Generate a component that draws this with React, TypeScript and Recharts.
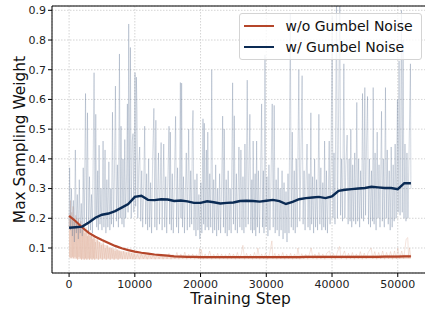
import { ComposedChart, Line, Area, XAxis, YAxis, CartesianGrid, ReferenceLine, Legend } from 'recharts';

const FONT = '"DejaVu Sans", sans-serif';

// x ticks / y ticks
const xTicks = [0, 10000, 20000, 30000, 40000, 50000];
const yTicks = [0.1, 0.2, 0.3, 0.4, 0.5, 0.6, 0.7, 0.8, 0.9];

// smoothed curves, sampled every 1000 steps
const smoothSteps = [
  0, 1000, 2000, 3000, 4000, 5000, 6000, 7000, 8000, 9000, 10000, 11000, 12000, 13000, 14000, 15000, 16000, 17000,
  18000, 19000, 20000, 21000, 22000, 23000, 24000, 25000, 26000, 27000, 28000, 29000, 30000, 31000, 32000, 33000,
  34000, 35000, 36000, 37000, 38000, 39000, 40000, 41000, 42000, 43000, 44000, 45000, 46000, 47000, 48000, 49000,
  50000, 51000, 52000,
];
const withGumbel = [
  0.168, 0.17, 0.172, 0.186, 0.202, 0.212, 0.216, 0.224, 0.236, 0.248, 0.272, 0.276, 0.262, 0.261, 0.264, 0.263,
  0.258, 0.26, 0.257, 0.252, 0.252, 0.257, 0.254, 0.25, 0.252, 0.253, 0.258, 0.259, 0.258, 0.256, 0.259, 0.262,
  0.258, 0.248, 0.255, 0.264, 0.268, 0.27, 0.272, 0.268, 0.274, 0.292, 0.296, 0.298, 0.3, 0.302, 0.306, 0.304,
  0.302, 0.302, 0.298, 0.318, 0.318,
];
const withoutGumbel = [
  0.208, 0.19, 0.169, 0.151, 0.138, 0.127, 0.117, 0.107, 0.099, 0.093, 0.088, 0.084, 0.081, 0.078, 0.076, 0.074,
  0.072, 0.071, 0.07, 0.07, 0.069, 0.069, 0.069, 0.069, 0.069, 0.069, 0.069, 0.069, 0.069, 0.069, 0.069, 0.069,
  0.069, 0.069, 0.069, 0.069, 0.07, 0.07, 0.07, 0.07, 0.07, 0.07, 0.07, 0.07, 0.07, 0.07, 0.07, 0.07, 0.071, 0.071,
  0.071, 0.072, 0.072,
];

// dense spread of the raw w/o-noise values (light band behind the raw line)
const bandSteps = [0, 1000, 2000, 3000, 4000, 5000, 6000, 8000, 10000, 12000, 15000, 20000, 30000, 40000, 52000];
const bandLow = [0.066, 0.064, 0.062, 0.062, 0.062, 0.062, 0.062, 0.062, 0.062, 0.062, 0.062, 0.062, 0.062, 0.062, 0.063];
const bandHigh = [0.2, 0.185, 0.165, 0.148, 0.13, 0.115, 0.105, 0.09, 0.082, 0.078, 0.075, 0.074, 0.074, 0.075, 0.077];

// raw (unsmoothed) values: [step, value]
const withGumbelRaw: [number, number][] = [
  [0, 0.17], [80, 0.37], [200, 0.16], [350, 0.3], [500, 0.14], [650, 0.26], [800, 0.12], [950, 0.43], [1100, 0.15],
  [1250, 0.28], [1400, 0.13], [1550, 0.33], [1700, 0.15], [1850, 0.25], [2000, 0.14], [2150, 0.37], [2300, 0.16],
  [2500, 0.62], [2650, 0.18], [2800, 0.555], [2950, 0.15], [3100, 0.34], [3250, 0.16], [3400, 0.28], [3550, 0.15],
  [3800, 0.69], [3950, 0.2], [4060, 0.55], [4200, 0.17], [4350, 0.36], [4450, 0.16], [4560, 0.446], [4700, 0.18],
  [4850, 0.3], [5000, 0.16], [5170, 0.46], [5300, 0.17], [5470, 0.43], [5600, 0.15], [5750, 0.33], [5900, 0.17],
  [6050, 0.39], [6200, 0.16], [6350, 0.3], [6450, 0.18], [6600, 0.557], [6750, 0.17], [6900, 0.35], [7050, 0.645],
  [7200, 0.19], [7350, 0.38], [7500, 0.17], [7660, 0.753], [7780, 0.2], [7900, 0.51], [8050, 0.18], [8200, 0.4],
  [8350, 0.17], [8470, 0.465], [8600, 0.2], [8750, 0.35], [8870, 0.585], [8970, 0.22], [9070, 0.854], [9200, 0.25],
  [9330, 0.775], [9450, 0.2], [9600, 0.46], [9730, 0.485], [9850, 0.22], [10030, 0.69], [10130, 0.24],
  [10240, 0.675], [10330, 0.566], [10450, 0.2], [10600, 0.38], [10740, 0.44], [10900, 0.19], [11050, 0.36],
  [11200, 0.17], [11350, 0.3], [11500, 0.51], [11650, 0.18], [11800, 0.35], [11950, 0.16], [12100, 0.4],
  [12250, 0.17], [12400, 0.32], [12550, 0.15], [12700, 0.38], [12900, 0.57], [13050, 0.17], [13200, 0.53],
  [13350, 0.16], [13600, 0.42], [13750, 0.18], [14000, 0.455], [14150, 0.16], [14400, 0.45], [14550, 0.17],
  [14700, 0.34], [14850, 0.15], [15000, 0.3], [15200, 0.51], [15300, 0.18], [15400, 0.49], [15550, 0.16],
  [15700, 0.35], [15850, 0.15], [16000, 0.3], [16200, 0.543], [16350, 0.17], [16500, 0.37], [16650, 0.15],
  [16800, 0.32], [16930, 0.657], [17020, 0.2], [17120, 0.655], [17250, 0.17], [17400, 0.34], [17550, 0.15],
  [17700, 0.3], [17830, 0.42], [17980, 0.16], [18190, 0.5], [18350, 0.17], [18500, 0.36], [18650, 0.18],
  [18750, 0.49], [18850, 0.563], [19000, 0.16], [19150, 0.33], [19300, 0.14], [19450, 0.35], [19600, 0.16],
  [19750, 0.28], [19900, 0.13], [20050, 0.32], [20200, 0.15], [20370, 0.535], [20470, 0.18], [20570, 0.52],
  [20700, 0.16], [20880, 0.43], [21000, 0.17], [21100, 0.49], [21250, 0.16], [21400, 0.35], [21550, 0.17],
  [21700, 0.7], [21850, 0.15], [22000, 0.33], [22150, 0.16], [22300, 0.38], [22450, 0.14], [22600, 0.3],
  [22750, 0.16], [22900, 0.35], [23050, 0.15], [23200, 0.3], [23360, 0.544], [23480, 0.17], [23600, 0.5],
  [23750, 0.15], [23900, 0.33], [24050, 0.14], [24200, 0.36], [24350, 0.16], [24500, 0.3], [24650, 0.15],
  [24880, 0.656], [25000, 0.18], [25130, 0.545], [25280, 0.16], [25450, 0.35], [25600, 0.15], [25840, 0.44],
  [25980, 0.17], [26140, 0.43], [26300, 0.16], [26450, 0.34], [26600, 0.15], [26750, 0.45], [26900, 0.17],
  [27100, 0.665], [27250, 0.18], [27500, 0.55], [27650, 0.16], [27800, 0.33], [27900, 0.15], [28000, 0.46],
  [28150, 0.16], [28300, 0.35], [28400, 0.14], [28530, 0.46], [28650, 0.17], [28800, 0.36], [28950, 0.15],
  [29100, 0.3], [29290, 0.585], [29420, 0.17], [29550, 0.36], [29650, 0.15], [29800, 0.75], [29950, 0.17],
  [30100, 0.34], [30250, 0.14], [30400, 0.38], [30550, 0.16], [30700, 0.31], [30900, 0.585], [31050, 0.17],
  [31200, 0.58], [31350, 0.15], [31500, 0.33], [31650, 0.16], [31800, 0.37], [31950, 0.14], [32100, 0.3],
  [32250, 0.16], [32400, 0.36], [32550, 0.13], [32700, 0.32], [32850, 0.15], [33000, 0.29], [33150, 0.12],
  [33300, 0.35], [33450, 0.15], [33650, 0.89], [33800, 0.17], [33950, 0.49], [34100, 0.16], [34250, 0.36],
  [34400, 0.15], [34550, 0.4], [34700, 0.17], [34950, 0.7], [35100, 0.19], [35250, 0.38], [35450, 0.68],
  [35600, 0.18], [35750, 0.36], [35900, 0.16], [36050, 0.33], [36200, 0.45], [36350, 0.17], [36500, 0.35],
  [36650, 0.16], [36780, 0.555], [36900, 0.18], [37050, 0.34], [37200, 0.15], [37350, 0.4], [37500, 0.17],
  [37650, 0.33], [37800, 0.16], [38000, 0.55], [38150, 0.18], [38300, 0.37], [38450, 0.16], [38600, 0.32],
  [38750, 0.17], [38870, 0.46], [39000, 0.16], [39150, 0.36], [39300, 0.15], [39450, 0.3], [39570, 0.46],
  [39700, 0.18], [39850, 0.4], [40030, 0.88], [40150, 0.2], [40300, 0.42], [40450, 0.18], [40680, 0.95],
  [40820, 0.2], [40950, 0.45], [41190, 0.95], [41300, 0.21], [41450, 0.4], [41600, 0.19], [41800, 0.72],
  [41950, 0.2], [42100, 0.38], [42300, 0.48], [42450, 0.18], [42600, 0.4], [42750, 0.19], [42860, 0.5],
  [43000, 0.17], [43150, 0.38], [43300, 0.19], [43450, 0.42], [43600, 0.18], [43770, 0.59], [43900, 0.19],
  [44050, 0.4], [44200, 0.17], [44350, 0.36], [44500, 0.2], [44640, 0.62], [44800, 0.19], [44990, 0.64],
  [45100, 0.21], [45250, 0.45], [45400, 0.61], [45550, 0.18], [45700, 0.4], [45850, 0.17], [46000, 0.36],
  [46150, 0.19], [46260, 0.64], [46400, 0.18], [46550, 0.42], [46700, 0.16], [46870, 0.49], [47000, 0.2],
  [47150, 0.38], [47300, 0.17], [47530, 0.56], [47650, 0.19], [47800, 0.4], [47950, 0.17], [48130, 0.64],
  [48250, 0.2], [48400, 0.43], [48550, 0.18], [48700, 0.36], [48850, 0.16], [49000, 0.44], [49150, 0.17],
  [49300, 0.38], [49450, 0.19], [49600, 0.45], [49750, 0.2], [49950, 0.6], [50050, 0.22], [50200, 0.73],
  [50350, 0.21], [50560, 0.9], [50680, 0.22], [50810, 0.8], [50950, 0.2], [51100, 0.45], [51250, 0.19],
  [51400, 0.42], [51550, 0.2], [51700, 0.4], [51930, 0.72], [52000, 0.3],
];

const withoutGumbelRaw: [number, number][] = [
  [0, 0.21], [100, 0.07], [200, 0.26], [300, 0.065], [400, 0.22], [500, 0.07], [600, 0.24], [700, 0.065],
  [800, 0.2], [900, 0.07], [1000, 0.21], [1100, 0.065], [1200, 0.18], [1300, 0.06], [1400, 0.2], [1500, 0.07],
  [1600, 0.17], [1700, 0.065], [1800, 0.19], [1900, 0.06], [2000, 0.16], [2100, 0.065], [2200, 0.18], [2300, 0.06],
  [2400, 0.15], [2500, 0.065], [2600, 0.17], [2700, 0.06], [2800, 0.14], [2900, 0.065], [3000, 0.16], [3100, 0.06],
  [3200, 0.14], [3300, 0.065], [3400, 0.15], [3500, 0.06], [3600, 0.13], [3700, 0.065], [3800, 0.14], [3900, 0.06],
  [4000, 0.12], [4150, 0.065], [4300, 0.13], [4450, 0.06], [4600, 0.12], [4750, 0.065], [4900, 0.11], [5050, 0.06],
  [5200, 0.12], [5350, 0.065], [5500, 0.1], [5650, 0.06], [5800, 0.11], [5950, 0.065], [6100, 0.1], [6250, 0.06],
  [6400, 0.1], [6550, 0.065], [6700, 0.095], [6850, 0.06], [7000, 0.09], [7150, 0.065], [7300, 0.095],
  [7450, 0.06], [7600, 0.09], [7750, 0.065], [7900, 0.088], [8100, 0.062], [8300, 0.09], [8500, 0.063],
  [8700, 0.085], [8900, 0.062], [9100, 0.086], [9300, 0.063], [9500, 0.082], [9700, 0.062], [9900, 0.08],
  [10100, 0.063], [10400, 0.078], [10700, 0.062], [11000, 0.08], [11300, 0.063], [11600, 0.077], [11900, 0.062],
  [12200, 0.079], [12500, 0.063], [12800, 0.076], [13100, 0.062], [13400, 0.078], [13700, 0.063], [14000, 0.08],
  [14300, 0.062], [14600, 0.077], [14900, 0.063], [15200, 0.082], [15500, 0.062], [15800, 0.078], [16100, 0.063],
  [16400, 0.085], [16700, 0.062], [17000, 0.08], [17300, 0.063], [17600, 0.086], [17900, 0.062], [18200, 0.079],
  [18500, 0.063], [18800, 0.08], [19100, 0.062], [19400, 0.078], [19700, 0.063], [19860, 0.098], [20000, 0.063],
  [20100, 0.095], [20400, 0.062], [20700, 0.08], [21000, 0.063], [21380, 0.09], [21700, 0.062], [22000, 0.079],
  [22300, 0.063], [22600, 0.082], [22900, 0.062], [23200, 0.08], [23500, 0.063], [23800, 0.078], [24100, 0.062],
  [24400, 0.083], [24700, 0.063], [25000, 0.08], [25300, 0.062], [25600, 0.085], [25900, 0.063], [26200, 0.08],
  [26440, 0.109], [26700, 0.062], [27000, 0.082], [27300, 0.063], [27600, 0.079], [27900, 0.062], [28200, 0.085],
  [28500, 0.063], [28720, 0.1], [29000, 0.062], [29300, 0.08], [29600, 0.063], [29900, 0.083], [30200, 0.062],
  [30500, 0.08], [30850, 0.124], [31000, 0.063], [31300, 0.082], [31600, 0.062], [31900, 0.08], [32200, 0.063],
  [32500, 0.085], [32800, 0.062], [33100, 0.079], [33400, 0.063], [33700, 0.082], [34000, 0.062], [34300, 0.08],
  [34600, 0.063], [34800, 0.1], [35100, 0.062], [35400, 0.081], [35700, 0.063], [36000, 0.079], [36300, 0.062],
  [36600, 0.083], [36830, 0.1], [37100, 0.063], [37400, 0.08], [37700, 0.062], [38000, 0.085], [38300, 0.063],
  [38600, 0.08], [38900, 0.062], [39200, 0.083], [39620, 0.09], [39900, 0.063], [40200, 0.082], [40500, 0.062],
  [40800, 0.085], [41140, 0.105], [41400, 0.063], [41900, 0.09], [42200, 0.062], [42500, 0.082], [42800, 0.063],
  [43100, 0.085], [43400, 0.062], [43700, 0.08], [44000, 0.063], [44300, 0.088], [44600, 0.062], [44900, 0.083],
  [45200, 0.063], [45500, 0.085], [45950, 0.1], [46200, 0.063], [46500, 0.088], [46800, 0.062], [47100, 0.085],
  [47400, 0.063], [47700, 0.09], [48000, 0.062], [48300, 0.085], [48600, 0.063], [48900, 0.088], [49200, 0.062],
  [49500, 0.09], [49800, 0.063], [50000, 0.1], [50300, 0.064], [50600, 0.09], [50900, 0.064], [51280, 0.13],
  [51520, 0.135], [51650, 0.066], [51800, 0.1], [52000, 0.07],
];

const toPoints = (pts: [number, number][]) => pts.map(([s, v]) => ({ s, v }));
const smoothPoints = (vals: number[]) => smoothSteps.map((s, i) => ({ s, v: vals[i] }));
const bandPoints = bandSteps.map((s, i) => ({ s, v: [bandLow[i], bandHigh[i]] }));

const Y_MIN = 0.0158;
const Y_MAX = 0.9145;

const legendItems = [
  { label: 'w/o Gumbel Noise', color: '#b5462a' },
  { label: 'w/ Gumbel Noise', color: '#0b2b54' },
];

function LegendBox() {
  return (
    <div
      style={{
        position: 'relative',
        width: 183,
        height: 47,
        boxSizing: 'border-box',
        background: 'rgba(255,255,255,0.8)',
        border: '1px solid #d4d4d4',
        borderRadius: 3,
        fontFamily: FONT,
        fontSize: 14,
        color: '#111',
      }}
    >
      {legendItems.map((it, i) => (
        <div
          key={it.label}
          style={{ position: 'absolute', left: 4, top: 2 + i * 21, height: 20, display: 'flex', alignItems: 'center' }}
        >
          <span style={{ width: 30, height: 2, background: it.color, display: 'inline-block' }} />
          <span style={{ marginLeft: 12, whiteSpace: 'nowrap' }}>{it.label}</span>
        </div>
      ))}
    </div>
  );
}

function YLabel(props: any) {
  const vb = props.viewBox || { y: 6, height: 267 };
  const cy = vb.y + vb.height / 2;
  return (
    <text x={25} y={cy} transform={`rotate(-90, 25, ${cy})`} textAnchor="middle" fontFamily={FONT} fontSize={15.4} fill="#111">
      Max Sampling Weight
    </text>
  );
}

function XLabel() {
  return (
    <text x={240.5} y={304} textAnchor="middle" fontFamily={FONT} fontSize={15.4} fill="#111">
      Training Step
    </text>
  );
}

export default function App() {
  const tickStyle = { fontFamily: FONT, fontSize: 11, fill: '#222' };
  return (
    <div style={{ position: 'fixed', left: 0, top: 0, width: 425, height: 311, overflow: 'hidden', background: '#fff' }}>
      <ComposedChart width={428} height={311} margin={{ top: 6, right: 0, bottom: 0, left: 0 }}>
        <CartesianGrid stroke="#c9c9c9" strokeDasharray="1.5 1.5" strokeWidth={0.8} />
        <XAxis
          dataKey="s"
          type="number"
          domain={[-2600, 54600]}
          ticks={xTicks}
          allowDataOverflow
          height={38}
          tick={tickStyle}
          tickSize={4}
          tickMargin={3}
          stroke="#000"
          axisLine={{ stroke: '#000', strokeWidth: 1 }}
          tickLine={{ stroke: '#000' }}
          label={<XLabel />}
        />
        <YAxis
          type="number"
          domain={[Y_MIN, Y_MAX]}
          ticks={yTicks}
          allowDataOverflow
          width={52}
          tick={tickStyle}
          tickSize={4}
          tickMargin={2}
          tickFormatter={(v: number) => v.toFixed(1)}
          axisLine={{ stroke: '#000', strokeWidth: 1 }}
          tickLine={{ stroke: '#000' }}
          label={<YLabel />}
        />
        <Area
          data={bandPoints}
          dataKey="v"
          type="linear"
          stroke="none"
          fill="#f0d8cd"
          fillOpacity={0.75}
          isAnimationActive={false}
          activeDot={false}
          legendType="none"
        />
        <Line
          data={toPoints(withoutGumbelRaw)}
          dataKey="v"
          type="linear"
          stroke="#dba58f"
          strokeOpacity={0.3}
          strokeWidth={1}
          dot={false}
          activeDot={false}
          isAnimationActive={false}
          legendType="none"
        />
        <Line
          data={toPoints(withGumbelRaw)}
          dataKey="v"
          type="linear"
          stroke="#5a6f8f"
          strokeOpacity={0.27}
          strokeWidth={1}
          dot={false}
          activeDot={false}
          isAnimationActive={false}
          legendType="none"
        />
        <Line
          data={smoothPoints(withoutGumbel)}
          dataKey="v"
          name="w/o Gumbel Noise"
          type="linear"
          stroke="#b5462a"
          strokeWidth={2.2}
          dot={false}
          activeDot={false}
          isAnimationActive={false}
        />
        <Line
          data={smoothPoints(withGumbel)}
          dataKey="v"
          name="w/ Gumbel Noise"
          type="linear"
          stroke="#0b2b54"
          strokeWidth={2.4}
          dot={false}
          activeDot={false}
          isAnimationActive={false}
        />
        <ReferenceLine y={Y_MAX} stroke="#000" strokeWidth={1} ifOverflow="visible" />
        <Legend
          layout="vertical"
          align="center"
          verticalAlign="middle"
          wrapperStyle={{ position: 'absolute', left: 238.5, top: 13, width: 183, height: 47 }}
          content={() => <LegendBox />}
        />
      </ComposedChart>
    </div>
  );
}
